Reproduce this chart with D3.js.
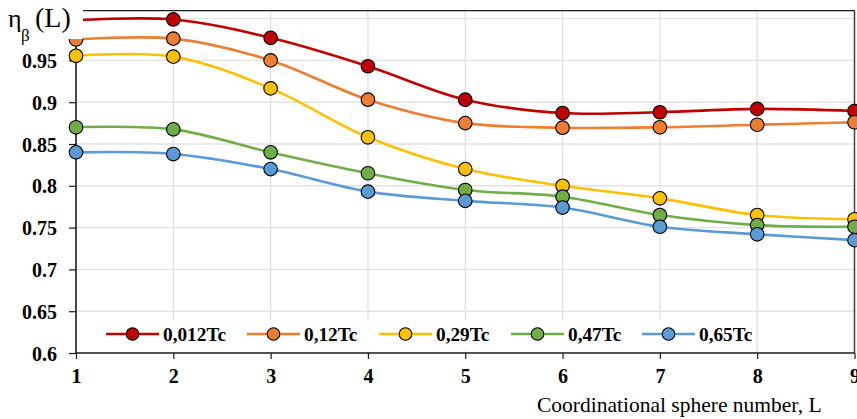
<!DOCTYPE html>
<html>
<head>
<meta charset="utf-8">
<script src="https://cdn.jsdelivr.net/npm/d3@7"></script>
<style>
  body { margin: 0; background: #fff; }
  svg { display: block; }
</style>
</head>
<body>
<svg id="chart" width="857" height="419"></svg>
<script>
const L = [1, 2, 3, 4, 5, 6, 7, 8, 9];
const seriesNames = ["0,012Tc", "0,12Tc", "0,29Tc", "0,47Tc", "0,65Tc"];
const seriesColors = ["#C00000", "#ED7D31", "#FFC000", "#70AD47", "#5B9BD5"];
const s012 = [0.998, 0.999, 0.977, 0.943, 0.903, 0.887, 0.888, 0.892, 0.8895];
const s12  = [0.975, 0.976, 0.950, 0.903, 0.875, 0.8695, 0.870, 0.873, 0.876];
const s29  = [0.9555, 0.9545, 0.9165, 0.858, 0.820, 0.800, 0.785, 0.765, 0.760];
const s47  = [0.870, 0.8675, 0.840, 0.815, 0.795, 0.787, 0.765, 0.753, 0.751];
const s65  = [0.840, 0.838, 0.820, 0.793, 0.782, 0.774, 0.751, 0.742, 0.735];
const seriesValues = [s012, s12, s29, s47, s65];
const yTicks = [0.6, 0.65, 0.7, 0.75, 0.8, 0.85, 0.9, 0.95, 1.0];
const yTickLabels = ["0.6", "0.65", "0.7", "0.75", "0.8", "0.85", "0.9", "0.95", "1"];
const xTitle = "Coordinational sphere number, L";

const svg = d3.select("#chart");
const left = 76, right = 854.5, bottom = 353, top1 = 18.6, frameTop = 10.7;
const x = d3.scaleLinear().domain([1, 9]).range([left, right]);
const y = d3.scaleLinear().domain([0.6, 1.0]).range([bottom, top1]);
const serif = "'Liberation Serif', 'Times New Roman', serif";

// grid
const grid = svg.append("g");
grid.selectAll("line.h").data(yTicks.slice(1)).join("line")
  .attr("x1", left).attr("x2", right)
  .attr("y1", d => y(d)).attr("y2", d => y(d))
  .attr("stroke", "#e2e2e2").attr("stroke-width", 1.4);
grid.selectAll("line.v").data(L.slice(1, 8)).join("line")
  .attr("x1", d => x(d)).attr("x2", d => x(d))
  .attr("y1", frameTop).attr("y2", bottom)
  .attr("stroke", "#e2e2e2").attr("stroke-width", 1.4);

// frame top & right
svg.append("line").attr("x1", left).attr("x2", right + 0.5).attr("y1", frameTop).attr("y2", frameTop)
  .attr("stroke", "#1a1a1a").attr("stroke-width", 1.3);
svg.append("line").attr("x1", right).attr("x2", right).attr("y1", frameTop).attr("y2", bottom)
  .attr("stroke", "#404040").attr("stroke-width", 1.5);

// axes
const yAxis = d3.axisLeft(y).tickValues(yTicks.slice(0, 8))
  .tickFormat((d, i) => yTickLabels[i]).tickSize(7).tickPadding(12);
const gy = svg.append("g").attr("transform", `translate(${left},0)`).call(yAxis);
gy.attr("font-family", serif);
gy.select(".domain").attr("d", `M0,${bottom}V${frameTop}`).attr("stroke", "#1a1a1a").attr("stroke-width", 1.6);
gy.selectAll(".tick line").attr("stroke", "#1a1a1a").attr("stroke-width", 1.2);
gy.selectAll(".tick text").attr("font-family", serif).attr("font-weight", "bold")
  .attr("font-size", 20).attr("fill", "#000").attr("dy", "0.35em");

const xAxis = d3.axisBottom(x).tickValues(L).tickFormat(d3.format("d")).tickSize(6).tickPadding(10);
const gx = svg.append("g").attr("transform", `translate(0,${bottom})`).call(xAxis);
gx.attr("font-family", serif);
gx.select(".domain").attr("d", `M${left},0H${right}`).attr("stroke", "#1a1a1a").attr("stroke-width", 1.6);
gx.selectAll(".tick line").attr("stroke", "#1a1a1a").attr("stroke-width", 1.2);
gx.selectAll(".tick text").attr("font-family", serif).attr("font-weight", "bold")
  .attr("font-size", 20).attr("fill", "#000");

// lines
const line = d3.line().x((d, i) => x(L[i])).y(d => y(d)).curve(d3.curveCatmullRom.alpha(0.5));
const plot = svg.append("g");
seriesValues.forEach((vals, k) => {
  plot.append("path").datum(vals).attr("d", line)
    .attr("fill", "none").attr("stroke", seriesColors[k]).attr("stroke-width", 2.6);
});
seriesValues.forEach((vals, k) => {
  plot.selectAll(null).data(vals).join("circle")
    .attr("cx", (d, i) => x(L[i])).attr("cy", d => y(d)).attr("r", 6.8)
    .attr("fill", seriesColors[k]).attr("stroke", "#000").attr("stroke-width", 1.1);
});

// legend
const legend = svg.append("g");
legend.append("rect").attr("x", 100).attr("y", 320).attr("width", 620).attr("height", 31).attr("fill", "#fff");
const legX = [106, 247, 379, 511, 642];
seriesNames.forEach((name, k) => {
  const g = legend.append("g").attr("transform", `translate(${legX[k]},334)`);
  g.append("line").attr("x1", 0).attr("x2", 53).attr("y1", 0).attr("y2", 0)
    .attr("stroke", seriesColors[k]).attr("stroke-width", 2.6);
  g.append("circle").attr("cx", 26.5).attr("cy", 0).attr("r", 6.3)
    .attr("fill", seriesColors[k]).attr("stroke", "#000").attr("stroke-width", 1.1);
  g.append("text").attr("x", 57).attr("y", 6.5).text(name)
    .attr("font-family", serif).attr("font-weight", "bold").attr("font-size", 19.3).attr("fill", "#000");
});

// y label with white box
svg.append("rect").attr("x", 0).attr("y", 0).attr("width", 83).attr("height", 39).attr("fill", "#fff");
const yl = svg.append("g").attr("font-family", serif).attr("fill", "#000");
yl.append("text").attr("x", 8).attr("y", 27).attr("font-size", 26).text("η");
yl.append("text").attr("x", 21).attr("y", 41).attr("font-size", 17).text("β");
yl.append("text").attr("x", 35).attr("y", 27).attr("font-size", 28).text("(L)");

// x title
svg.append("text").attr("x", 537).attr("y", 412).attr("font-family", serif)
  .attr("font-size", 21.5).attr("fill", "#000").text(xTitle);
</script>
</body>
</html>
